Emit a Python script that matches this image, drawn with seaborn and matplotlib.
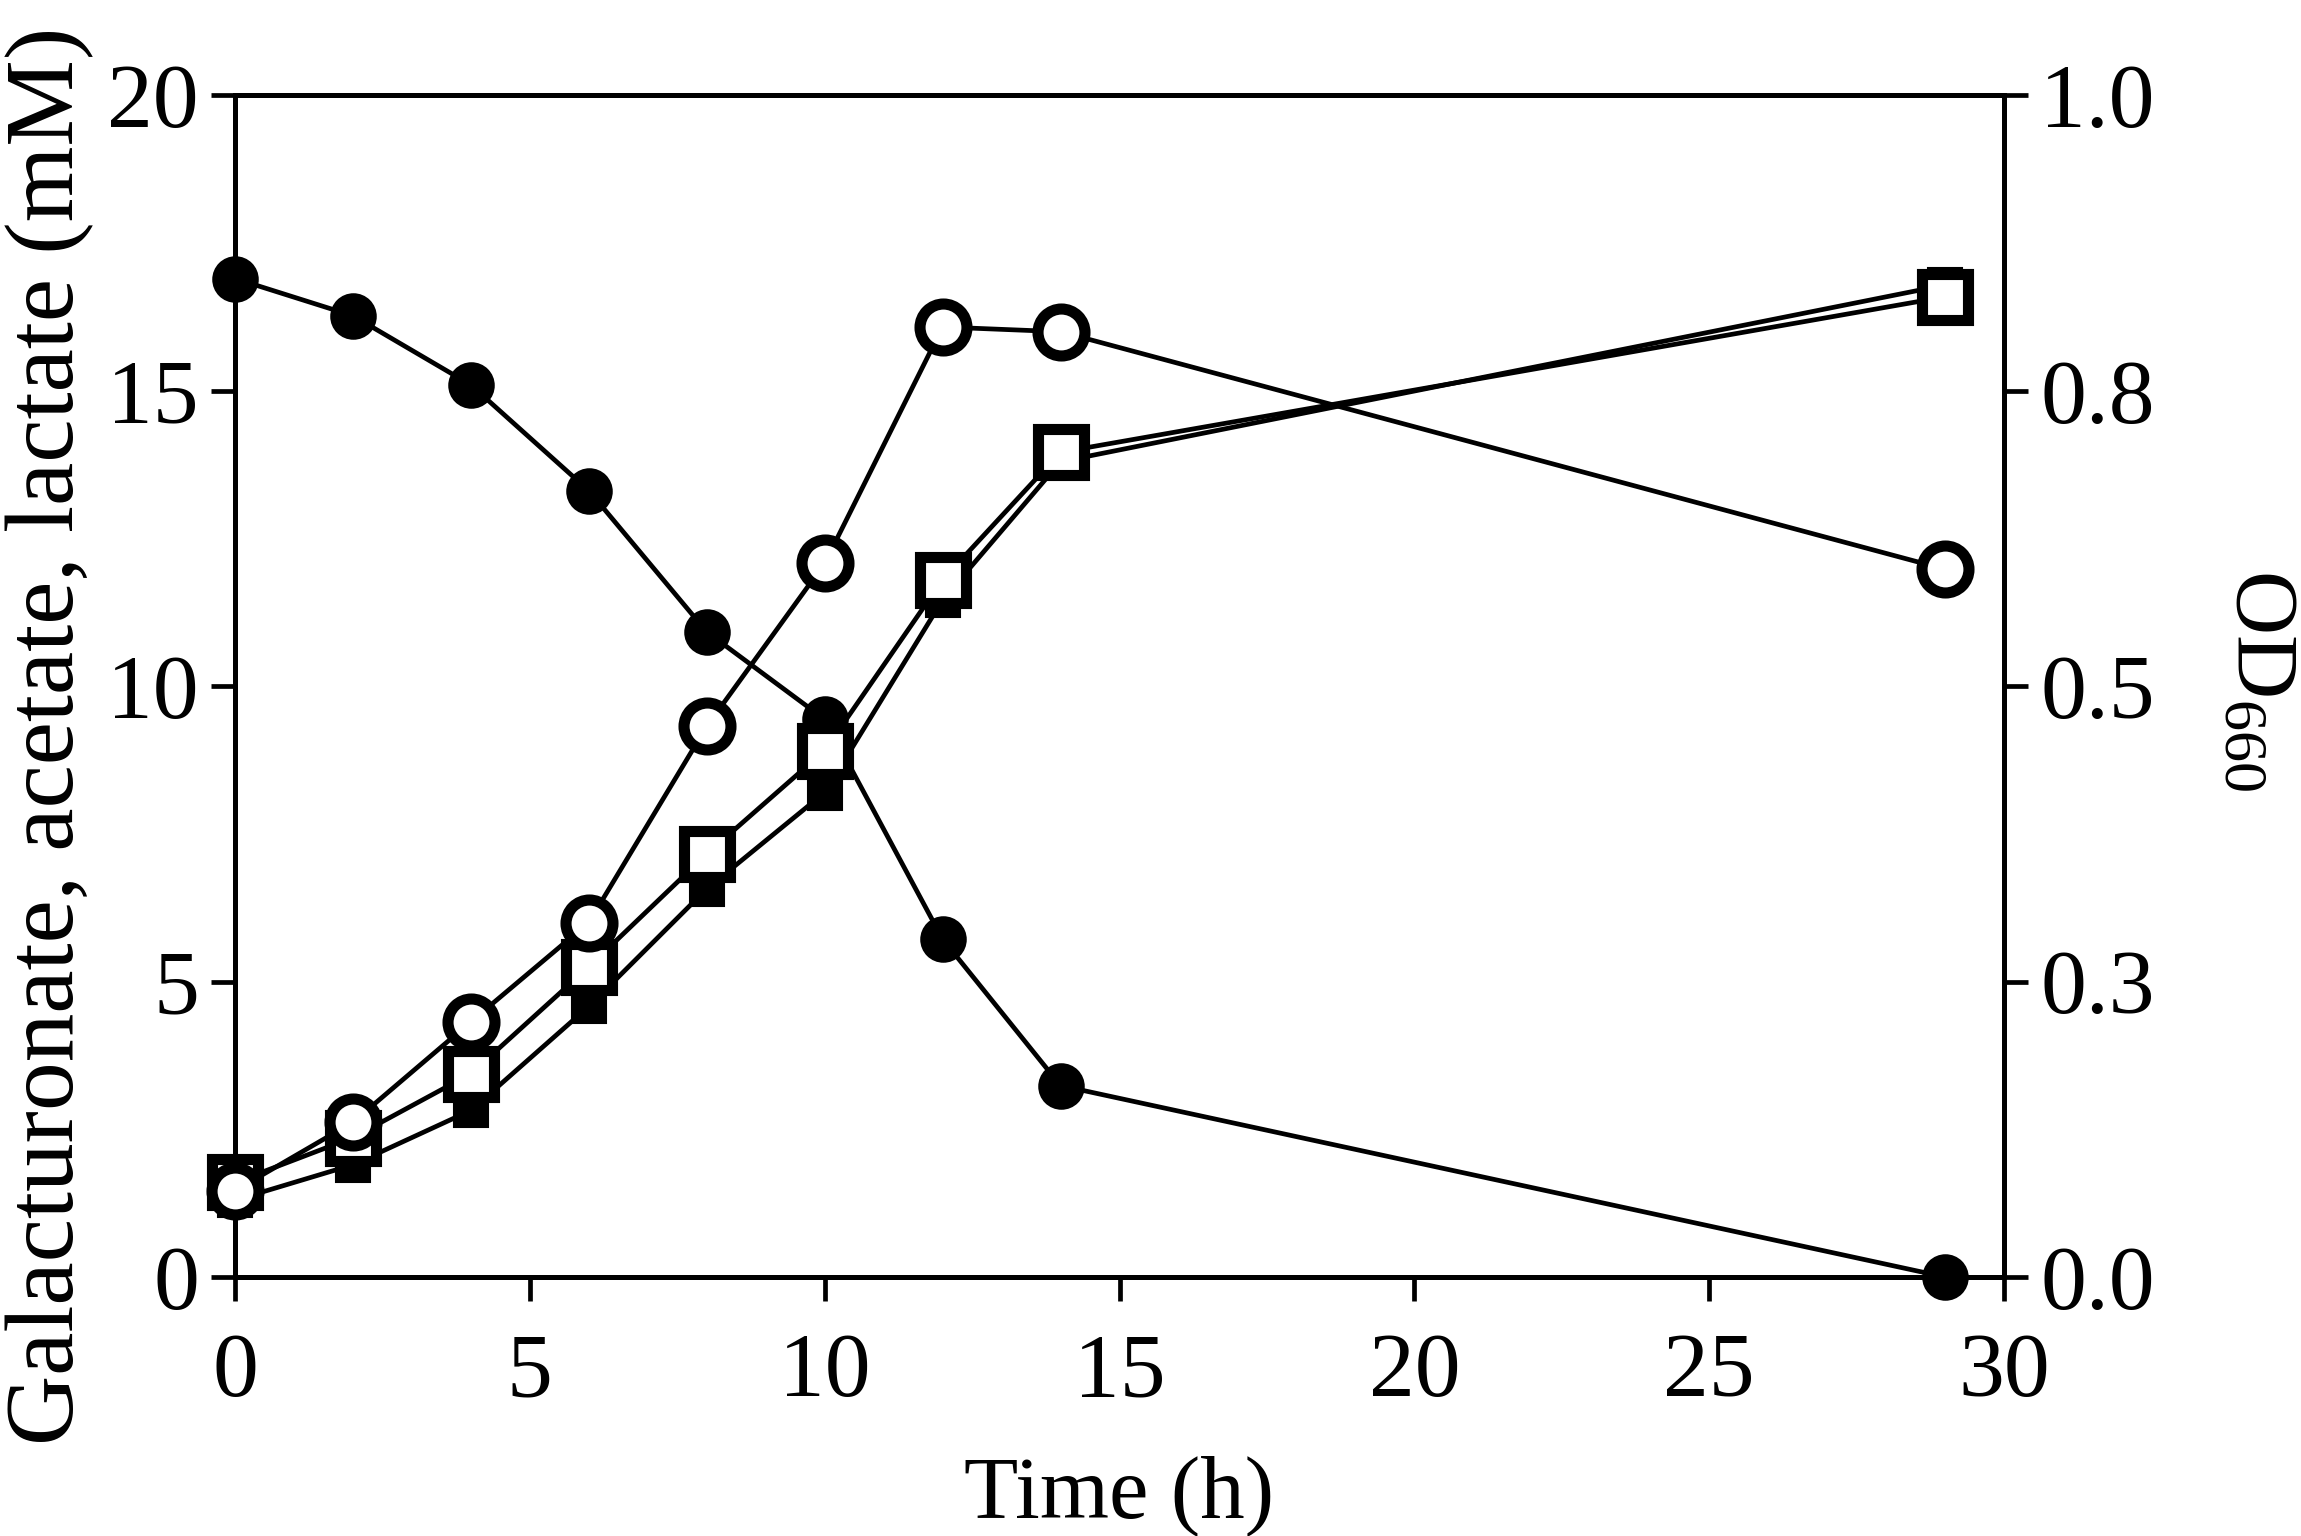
import matplotlib
matplotlib.use('Agg')
import matplotlib.pyplot as plt
import seaborn as sns

# ---- data ----
time_h = [0, 2, 4, 6, 8, 10, 12, 14, 29]
galacturonate = [16.90, 16.27, 15.10, 13.31, 10.92, 9.44, 5.72, 3.24, 0.0]
lactate = [1.30, 1.90, 2.82, 4.58, 6.57, 8.20, 11.46, 13.80, 16.79]
acetate = [1.60, 2.36, 3.44, 5.25, 7.16, 8.91, 11.80, 13.96, 16.59]
od660 = [0.073, 0.131, 0.216, 0.300, 0.466, 0.604, 0.804, 0.800, 0.599]

x_ticks = [0, 5, 10, 15, 20, 25, 30]
y_ticks = [0, 5, 10, 15, 20]
od_ticks = [0.0, 0.25, 0.5, 0.75, 1.0]
od_tick_labels = ['0.0', '0.3', '0.5', '0.8', '1.0']

x_label = 'Time (h)'
y_label = 'Galacturonate, acetate, lactate (mM)'
od_label = 'OD$_{660}$'

# ---- style ----
sns.set_theme(style='ticks')
plt.rcParams['font.family'] = ['Liberation Serif', 'DejaVu Serif']
plt.rcParams['mathtext.default'] = 'regular'
for k in ['axes.edgecolor', 'xtick.color', 'ytick.color', 'text.color',
          'axes.labelcolor']:
    plt.rcParams[k] = 'black'

TICK_FS = 66
LABEL_FS = 64
YLABEL_FS = 70
SPINE_W = 3.6
LINE_W = 3.4

fig = plt.figure(figsize=(23.01, 15.36), dpi=100)
ax = fig.add_axes([0.10213, 0.16862, 0.76880, 0.76927])
ax2 = ax.twinx()

common = dict(color='black', linewidth=LINE_W, clip_on=False,
              markeredgecolor='black', legend=False)

# filled circles: galacturonate
sns.lineplot(x=time_h, y=galacturonate, ax=ax, marker='o', markersize=32,
             markerfacecolor='black', markeredgewidth=1.5, zorder=3, **common)
# filled squares: lactate
sns.lineplot(x=time_h, y=lactate, ax=ax, marker='s', markersize=24.5,
             markerfacecolor='black', markeredgewidth=1.5, zorder=4, **common)
# open squares: acetate
sns.lineplot(x=time_h, y=acetate, ax=ax, marker='s', markersize=33.8,
             markerfacecolor='white', markeredgewidth=8.0, zorder=5, **common)
# open circles: OD660 (right axis)
sns.lineplot(x=time_h, y=od660, ax=ax2, marker='o', markersize=33.8,
             markerfacecolor='white', markeredgewidth=8.0, zorder=5, **common)

ax.set_xlim(0, 30)
ax.set_ylim(0, 20)
ax2.set_ylim(0, 1.0)
ax.set_xticks(x_ticks)
ax.set_xticklabels([str(v) for v in x_ticks])
ax.set_yticks(y_ticks)
ax.set_yticklabels([str(v) for v in y_ticks])
ax2.set_yticks(od_ticks)
ax2.set_yticklabels(od_tick_labels)

for a in (ax, ax2):
    for s in a.spines.values():
        s.set_visible(True)
        s.set_linewidth(SPINE_W)
        s.set_color('black')

ax.tick_params(axis='y', which='both', direction='out', length=17,
               width=3.4, labelsize=TICK_FS, pad=9, left=True, right=False)
ax.tick_params(axis='x', which='both', direction='out', length=17,
               width=3.4, labelsize=TICK_FS, pad=23, bottom=True, top=False)
ax2.tick_params(axis='y', which='both', direction='out', length=17,
                width=3.4, labelsize=TICK_FS, pad=9, left=False, right=True)

ax.set_xlabel(x_label, fontsize=LABEL_FS)
ax.set_ylabel(y_label, fontsize=YLABEL_FS)
ax2.set_ylabel(od_label, fontsize=LABEL_FS, rotation=270, va='bottom')
ax.xaxis.set_label_coords(0.5, -0.1506)
ax.yaxis.set_label_coords(-0.0795, 0.458)
ax2.yaxis.set_label_coords(1.1215, 0.505)

fig.savefig('out.png', dpi=100, facecolor='white')
